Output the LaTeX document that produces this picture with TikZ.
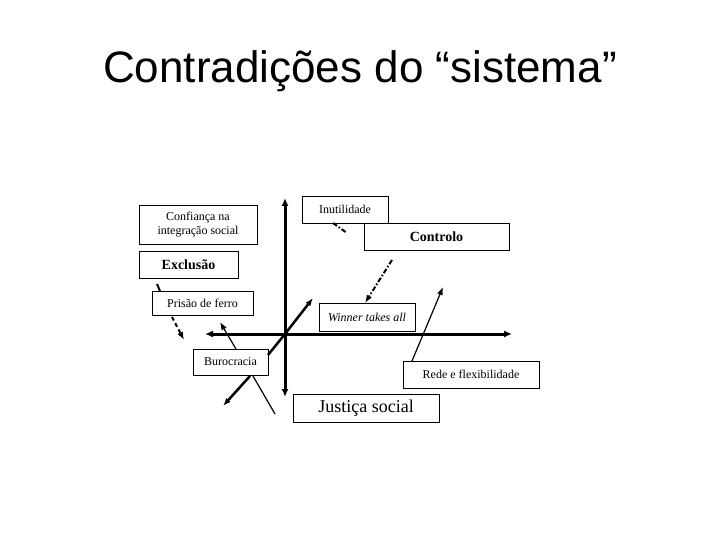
\documentclass[tikz,border=0pt]{standalone}
\usepackage{fontspec}
\setmainfont{Liberation Serif}
\newfontfamily\titlefont{Liberation Sans}
\usetikzlibrary{arrows.meta}
\begin{document}
\begin{tikzpicture}[x=1pt,y=-1pt,
  bx/.style={draw,line width=0.8pt,inner sep=0pt,align=center,font=\fontsize{12}{14}\selectfont},
  axis/.style={line width=3pt,{Latex[length=8pt,width=7pt]}-{Latex[length=8pt,width=7pt]}},
  thk/.style={line width=2.5pt},
  thn/.style={line width=1.2pt},
  tip/.style={-{Latex[length=8pt,width=6pt]}},
  dd/.style={line width=2pt,dash pattern=on 5pt off 2pt on 1.5pt off 2pt},
  ds/.style={line width=2pt,dash pattern=on 4pt off 3pt}]
\useasboundingbox (0,0) rectangle (720,540);
\node[font=\titlefont\fontsize{44}{50}\selectfont,anchor=base] (title) at (360,83) {Contradições do “sistema”};
% boxes
\node[bx,minimum width=118pt,minimum height=39pt] (conf) at (198,224.5) {Confiança na\\integração social};
\node[bx,minimum width=99pt,minimum height=27pt,font=\bfseries\fontsize{14}{16}\selectfont] (excl) at (188.5,264.5) {Exclusão};
\node[bx,minimum width=101pt,minimum height=24pt] (pris) at (202.5,303) {Prisão de ferro};
\node[bx,minimum width=86pt,minimum height=27pt] (inut) at (345,209.5) {Inutilidade};
\node[bx,minimum width=145pt,minimum height=27pt,font=\bfseries\fontsize{14}{16}\selectfont] (contr) at (436.5,236.5) {Controlo};
\node[bx,minimum width=96pt,minimum height=28pt,font=\itshape\fontsize{12}{14}\selectfont] (winn) at (367,317) {Winner takes all};
\node[bx,minimum width=75pt,minimum height=26pt] (buro) at (230.5,362) {Burocracia};
\node[bx,minimum width=136pt,minimum height=27pt] (rede) at (471,374.5) {Rede e flexibilidade};
\node[bx,minimum width=146pt,minimum height=28pt,font=\fontsize{18}{20}\selectfont] (just) at (366,408) {Justiça social};
% axes
\coordinate (o) at (285,334);
\coordinate (vt) at (285,198);
\coordinate (vb) at (285,397);
\coordinate (hl) at (205,334);
\coordinate (hr) at (512,334);
\draw[axis] (vb) -- (vt);
\draw[axis] (hl) -- (hr);
% connectors
\coordinate (b1) at (268,355);
\coordinate (d1) at (313,298);
\draw[thk,tip] (b1) -- (o) -- (d1);
\coordinate (b2) at (250,376);
\coordinate (d2) at (223,406);
\draw[thk,tip] (b2) -- (d2);
\coordinate (b3) at (253,376);
\coordinate (d3) at (275,414);
\draw[thn] (b3) -- (d3);
\coordinate (b4) at (236,349);
\coordinate (d4) at (220,322);
\draw[thn,tip] (b4) -- (d4);
\coordinate (r1) at (412,361);
\coordinate (r2) at (443,287);
\draw[thn,tip] (r1) -- (r2);
\coordinate (c1) at (392,260);
\coordinate (c2) at (365,303);
\draw[dd,tip] (c1) -- (c2);
\coordinate (i1) at (333,223);
\coordinate (i2) at (347,233);
\draw[dd] (i1) -- (i2);
\coordinate (p1) at (172,317);
\coordinate (p2) at (184,340);
\draw[ds,tip] (p1) -- (p2);
\coordinate (e1) at (157,284);
\coordinate (e2) at (160,291);
\draw[line width=2pt] (e1) -- (e2);
\end{tikzpicture}
\end{document}
